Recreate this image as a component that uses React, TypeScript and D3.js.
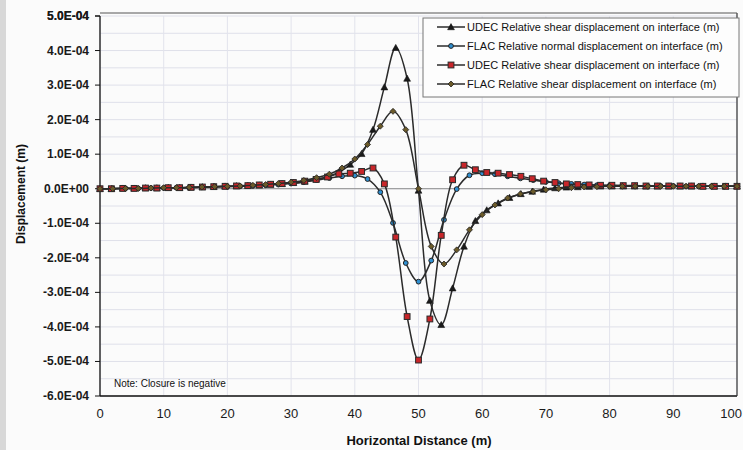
import React from "react";
import * as d3 from "d3";

// ---- Data (displacement values in units of 1e-4 m) ----
const udecX: number[] = d3.range(57).map((k) => (k * 100) / 56);
const flacX: number[] = d3.range(51).map((k) => k * 2);

const udecShearE4 = [
  0, 0, 0.01, 0.01, 0.02, 0.02, 0.03, 0.03, 0.04, 0.05,
  0.06, 0.07, 0.08, 0.09, 0.1, 0.12, 0.14, 0.17, 0.21, 0.27,
  0.35, 0.48, 0.7, 1.01, 1.71, 2.94, 4.08, 3.19, -0.05, -3.24,
  -3.94, -2.88, -1.67, -0.93, -0.62, -0.42, -0.26, -0.15, -0.08, -0.02,
  0.02, 0.04, 0.05, 0.06, 0.07, 0.07, 0.07, 0.07, 0.07, 0.07,
  0.07, 0.07, 0.07, 0.07, 0.07, 0.07, 0.07,
];
const udecNormalE4 = [
  0, 0, 0.01, 0.01, 0.02, 0.02, 0.03, 0.03, 0.04, 0.05,
  0.06, 0.07, 0.08, 0.09, 0.11, 0.13, 0.15, 0.18, 0.22, 0.27,
  0.34, 0.43, 0.45, 0.5, 0.6, 0.14, -1.4, -3.7, -4.96, -3.77,
  -1.35, 0.26, 0.68, 0.55, 0.47, 0.45, 0.41, 0.36, 0.29, 0.22,
  0.18, 0.14, 0.12, 0.11, 0.1, 0.1, 0.09, 0.09, 0.08, 0.08,
  0.08, 0.08, 0.08, 0.07, 0.07, 0.07, 0.07,
];
const flacNormalE4 = [
  0, 0, 0.01, 0.01, 0.02, 0.02, 0.03, 0.03, 0.04, 0.05,
  0.06, 0.07, 0.08, 0.1, 0.12, 0.15, 0.19, 0.25, 0.31, 0.36,
  0.38, 0.28, -0.1, -0.99, -2.15, -2.69, -2.08, -0.9, -0.01, 0.39,
  0.45, 0.42, 0.36, 0.3, 0.25, 0.2, 0.16, 0.14, 0.12, 0.1,
  0.09, 0.09, 0.08, 0.08, 0.08, 0.08, 0.07, 0.07, 0.07, 0.07, 0.07,
];
const flacShearE4 = [
  0, 0, 0.01, 0.01, 0.02, 0.03, 0.03, 0.04, 0.05, 0.06,
  0.07, 0.08, 0.1, 0.12, 0.15, 0.19, 0.24, 0.32, 0.42, 0.6,
  0.86, 1.28, 1.81, 2.24, 1.71, 0, -1.67, -2.18, -1.77, -1.19,
  -0.75, -0.47, -0.27, -0.15, -0.08, -0.03, 0, 0.03, 0.05, 0.06,
  0.07, 0.07, 0.07, 0.07, 0.07, 0.07, 0.07, 0.07, 0.07, 0.07, 0.07,
];

const seriesNames = [
  "UDEC Relative shear displacement on interface (m)",
  "FLAC Relative normal displacement on interface (m)",
  "UDEC Relative shear displacement on interface (m)",
  "FLAC Relative shear displacement on interface (m)",
];

const yTicks: number[] = d3.range(-6, 6).map((v) => v * 1e-4);
const yGrid: number[] = d3.range(-12, 11).map((v) => v * 0.5e-4);
const xTicks: number[] = d3.range(0, 101, 10);

const xTitle = "Horizontal Distance (m)";
const yTitle = "Displacement (m)";
const noteText = "Note: Closure is negative";

// ---- Layout ----
const W = 743;
const H = 450;
const left = 100;
const right = 737;
const top = 16;
const bottom = 396;
const FONT = "'Liberation Sans', Arial, sans-serif";

const x = d3.scaleLinear().domain([0, 100]).range([left, right]);
const y = d3.scaleLinear().domain([-6e-4, 5e-4]).range([bottom, top]);

function fmtE(v: number): string {
  if (Math.abs(v) < 1e-12) return "0.0E+00";
  const e = Math.floor(Math.log10(Math.abs(v)) + 1e-9);
  const m = v / Math.pow(10, e);
  const sign = e < 0 ? "-" : "+";
  const ae = Math.abs(e);
  return `${m.toFixed(1)}E${sign}${ae < 10 ? "0" + ae : ae}`;
}

type Marker = "tri" | "circle" | "square" | "diamond";

interface Series {
  xs: number[];
  ys: number[];
  marker: Marker;
  fill: string;
}

const series: Series[] = [
  { xs: udecX, ys: udecShearE4.map((v) => v * 1e-4), marker: "tri", fill: "#1a1a1a" },
  { xs: flacX, ys: flacNormalE4.map((v) => v * 1e-4), marker: "circle", fill: "#2f8fd0" },
  { xs: udecX, ys: udecNormalE4.map((v) => v * 1e-4), marker: "square", fill: "#c8262a" },
  { xs: flacX, ys: flacShearE4.map((v) => v * 1e-4), marker: "diamond", fill: "#6b5a2a" },
];

const LINE = "#2b2b2b";

function MarkerShape({ m, cx, cy, fill }: { m: Marker; cx: number; cy: number; fill: string }) {
  if (m === "tri") {
    const s = 3.4;
    return (
      <path
        d={`M${cx},${cy - s}L${cx + s},${cy + s * 0.8}L${cx - s},${cy + s * 0.8}Z`}
        fill={fill}
        stroke="#111"
        strokeWidth={0.6}
      />
    );
  }
  if (m === "circle") {
    return <circle cx={cx} cy={cy} r={2.4} fill={fill} stroke="#222" strokeWidth={1} />;
  }
  if (m === "square") {
    const s = 2.9;
    return <rect x={cx - s} y={cy - s} width={2 * s} height={2 * s} fill={fill} stroke="#2a2a2a" strokeWidth={1} />;
  }
  const s = 3;
  return (
    <path
      d={`M${cx},${cy - s}L${cx + s},${cy}L${cx},${cy + s}L${cx - s},${cy}Z`}
      fill={fill}
      stroke="#222"
      strokeWidth={0.8}
    />
  );
}

export default function App() {
  const lineGen = d3
    .line<[number, number]>()
    .x((d) => x(d[0]))
    .y((d) => y(d[1]))
    .curve(d3.curveCatmullRom.alpha(0.5));

  const legendY = [27, 46, 65, 84];

  return (
    <svg
      width={W}
      height={H}
      viewBox={`0 0 ${W} ${H}`}
      style={{ position: "absolute", left: 0, top: 0, background: "#fbfbfb" }}
      fontFamily={FONT}
    >
      <rect x={0} y={0} width={W} height={H} fill="#fbfbfb" />
      <rect x={0} y={0} width={6} height={H} fill="#d8d8d8" />

      {/* grid */}
      {yGrid.map((v, i) => (
        <line key={"gy" + i} x1={left} x2={right} y1={y(v)} y2={y(v)} stroke="#dfe0ea" strokeWidth={1} />
      ))}
      {xTicks.map((v, i) => (
        <line key={"gx" + i} x1={x(v)} x2={x(v)} y1={top} y2={bottom} stroke="#e2e3ec" strokeWidth={1} />
      ))}
      {/* zero line */}
      <line x1={left} x2={right} y1={y(0)} y2={y(0)} stroke="#8c8c8c" strokeWidth={1} />

      {/* frame */}
      <line x1={left} x2={left} y1={top} y2={bottom} stroke="#111" strokeWidth={1.3} />
      <line x1={left} x2={right} y1={bottom} y2={bottom} stroke="#111" strokeWidth={1.3} />
      <line x1={right} x2={right} y1={top - 3} y2={bottom} stroke="#333" strokeWidth={1.2} />
      <line x1={left} x2={right} y1={top - 3} y2={top - 3} stroke="#555" strokeWidth={1} />

      {/* y ticks */}
      {yTicks.concat([5e-4]).map((v, i) => (
        <g key={"yt" + i}>
          <line x1={left - 5} x2={left} y1={y(v)} y2={y(v)} stroke="#111" strokeWidth={1} />
          <text
            x={89}
            y={y(v)}
            textAnchor="end"
            dominantBaseline="central"
            fontSize={12}
            fontWeight="bold"
            fill="#1a1a1a"
          >
            {fmtE(v)}
          </text>
        </g>
      ))}

      {/* x tick labels */}
      {xTicks.map((v, i) => {
        const last = i === xTicks.length - 1;
        return (
          <text
            key={"xt" + i}
            x={last ? W - 1 : x(v)}
            y={413}
            textAnchor={last ? "end" : "middle"}
            dominantBaseline="central"
            fontSize={13}
            fill="#1a1a1a"
          >
            {v}
          </text>
        );
      })}

      {/* axis titles */}
      <text x={419} y={440} textAnchor="middle" dominantBaseline="central" fontSize={13} fontWeight="bold" fill="#111">
        {xTitle}
      </text>
      <text
        transform={`translate(21,194) rotate(-90)`}
        textAnchor="middle"
        dominantBaseline="central"
        fontSize={12}
        fontWeight="bold"
        fill="#111"
      >
        {yTitle}
      </text>

      {/* note */}
      <text x={114} y={383} dominantBaseline="central" fontSize={10} fill="#111">
        {noteText}
      </text>

      {/* series */}
      {series.map((s, si) => {
        const pts: [number, number][] = s.xs.map((xv, i) => [xv, s.ys[i]]);
        return (
          <g key={"s" + si}>
            <path d={lineGen(pts) || ""} fill="none" stroke={LINE} strokeWidth={1.5} />
            {pts.map((p, i) => (
              <MarkerShape key={i} m={s.marker} cx={x(p[0])} cy={y(p[1])} fill={s.fill} />
            ))}
          </g>
        );
      })}

      {/* legend */}
      <rect x={423} y={18} width={316} height={79} fill="#fdfdfd" stroke="#777" strokeWidth={1} />
      {series.map((s, i) => (
        <g key={"lg" + i}>
          <line x1={437} x2={465} y1={legendY[i]} y2={legendY[i]} stroke={LINE} strokeWidth={1.5} />
          <MarkerShape m={s.marker} cx={451} cy={legendY[i]} fill={s.fill} />
          <text x={467} y={legendY[i]} dominantBaseline="central" fontSize={11} fill="#111">
            {seriesNames[i]}
          </text>
        </g>
      ))}
    </svg>
  );
}
